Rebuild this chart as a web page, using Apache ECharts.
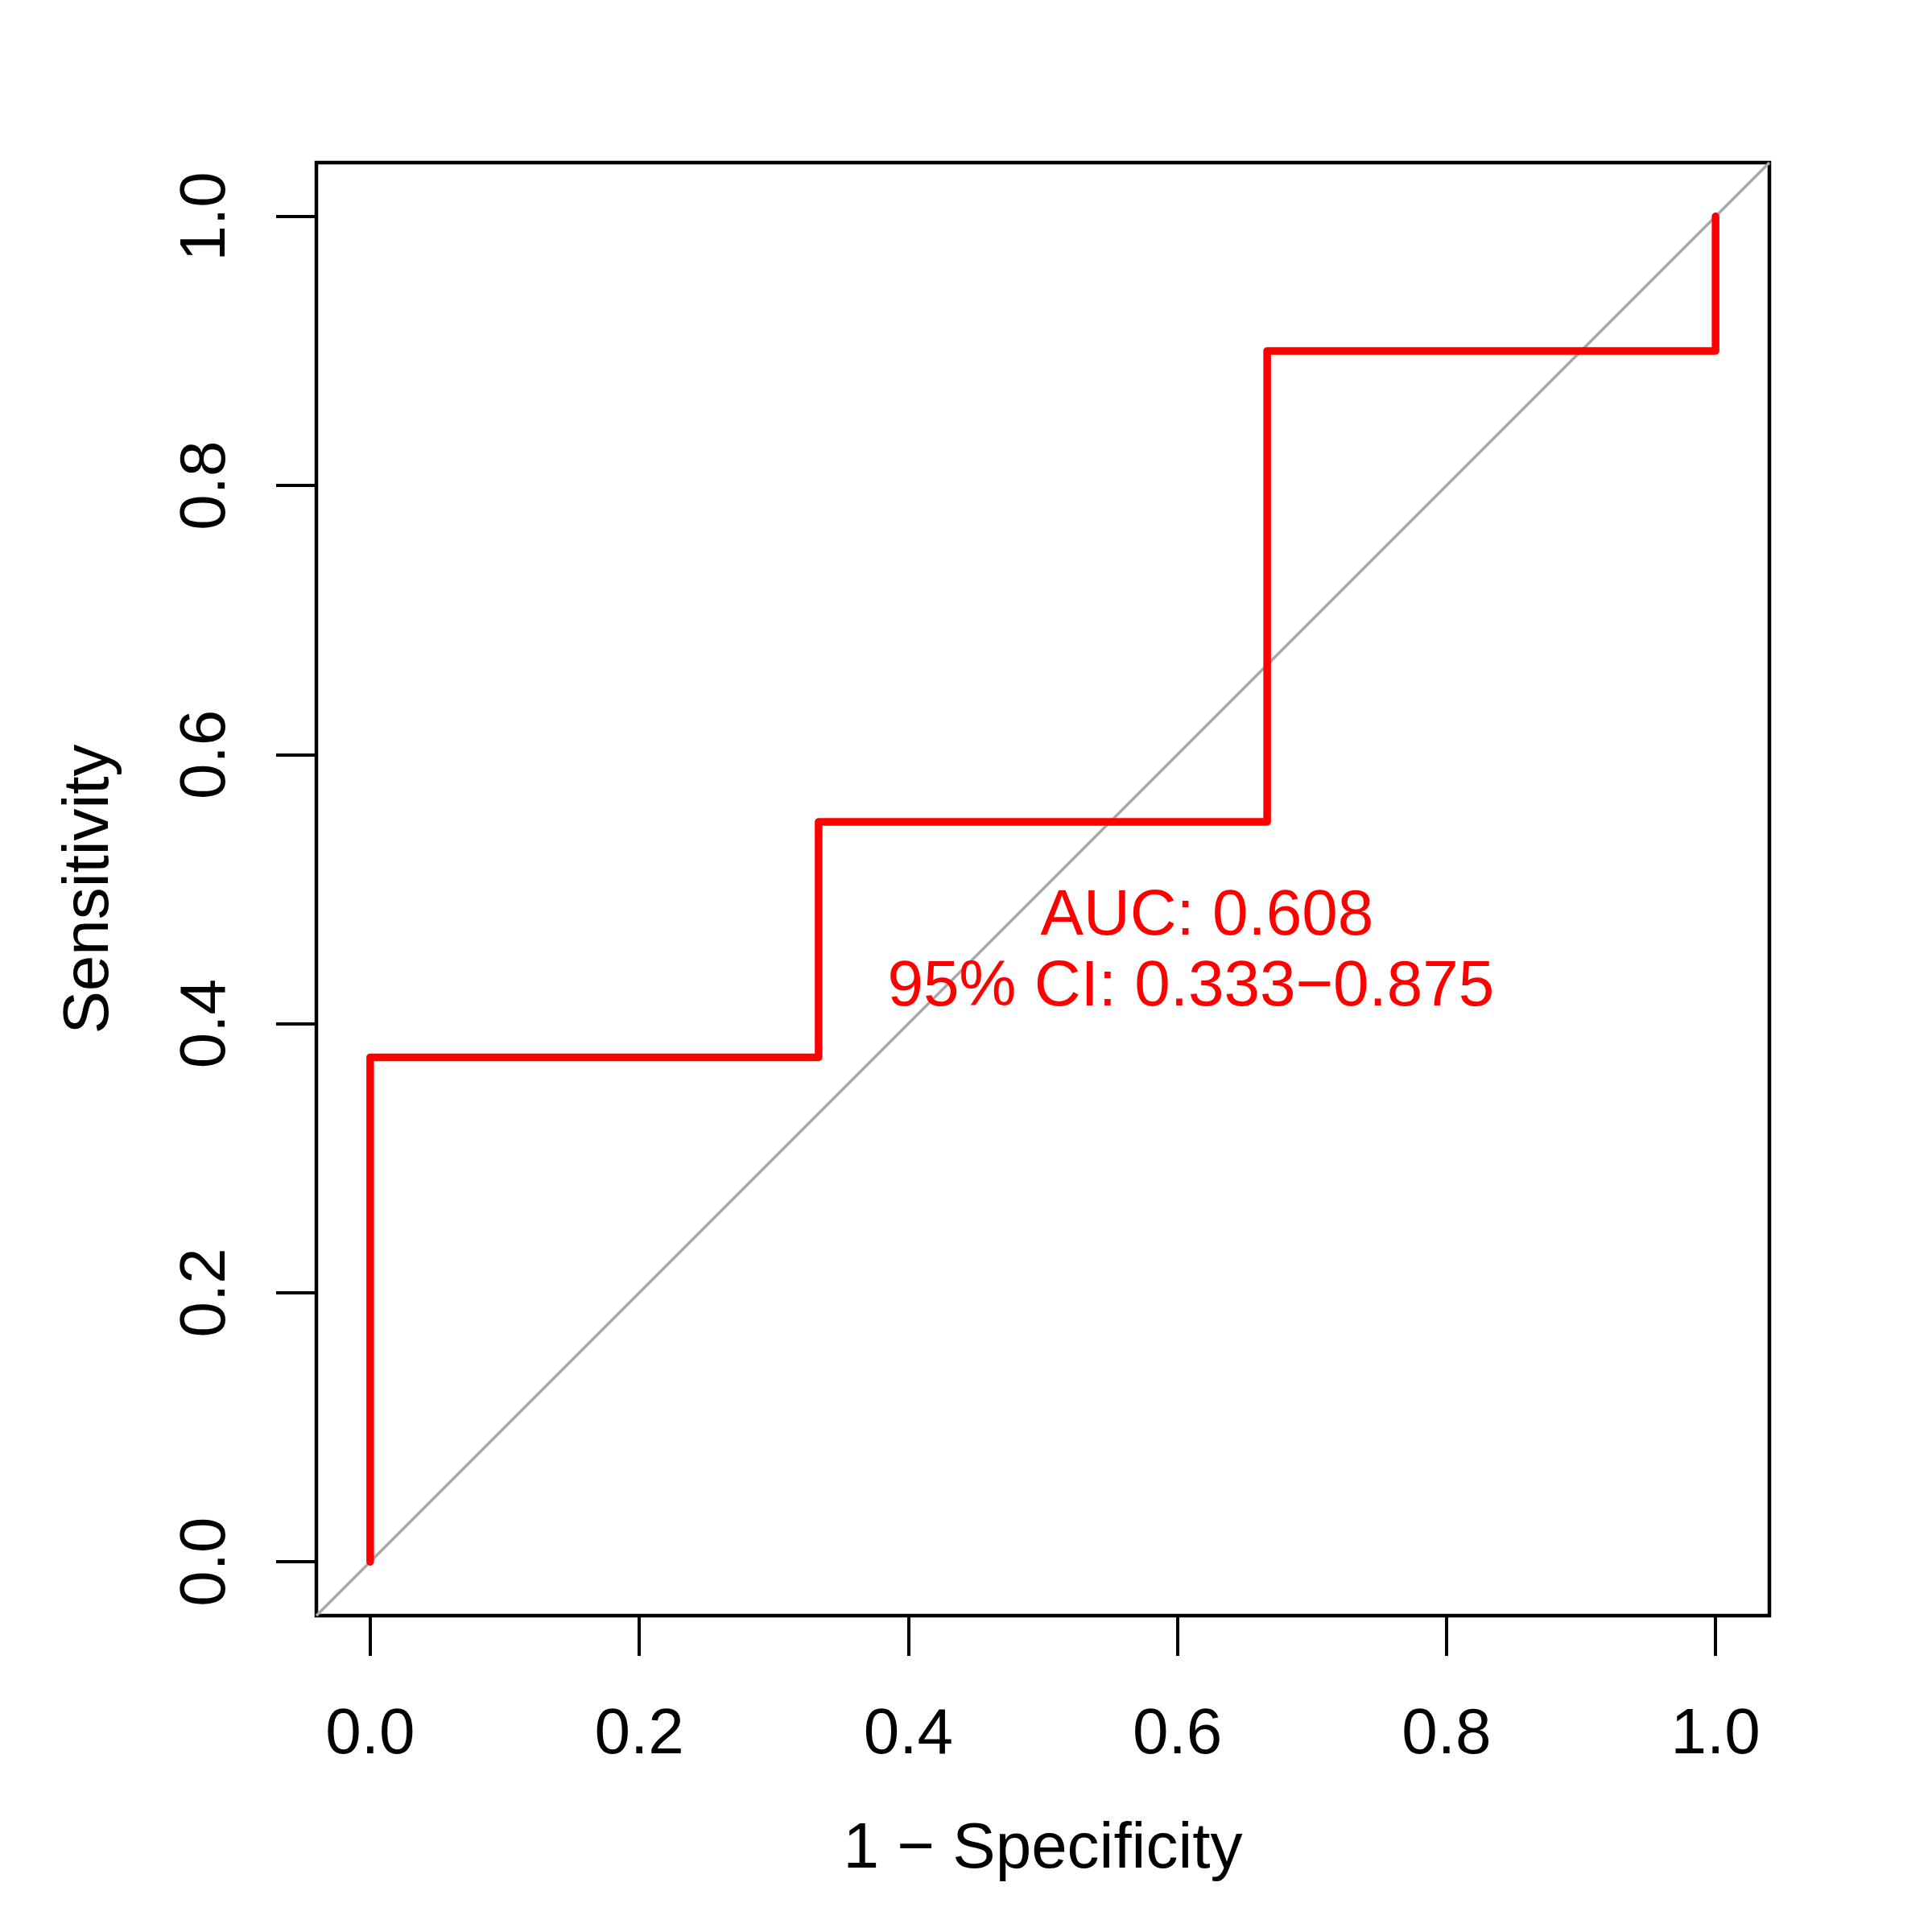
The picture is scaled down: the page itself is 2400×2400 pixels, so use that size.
<!DOCTYPE html>
<html>
<head>
<meta charset="utf-8">
<script src="https://cdn.jsdelivr.net/npm/echarts@6/dist/echarts.min.js"></script>
<style>
html,body{margin:0;padding:0;background:#fff;}
#chart{width:2400px;height:2400px;}
</style>
</head>
<body>
<div id="chart"></div>
<script>
// ROC curve points (1 - specificity, sensitivity)
const fpr = [0, 0, 0.3333, 0.3333, 0.6667, 0.6667, 1, 1];
const tpr = [0, 0.375, 0.375, 0.55, 0.55, 0.9, 0.9, 1];
// chance diagonal (spans the whole plot region)
const diagX = [-0.04, 1.04];
const diagY = [-0.04, 1.04];
// tick values
const xTicks = [0, 0.2, 0.4, 0.6, 0.8, 1.0];
const yTicks = [0, 0.2, 0.4, 0.6, 0.8, 1.0];
// annotation texts and their data positions (centre of text)
const annoText = ['AUC: 0.608', '95% CI: 0.333\u22120.875'];
const annoX = [0.622, 0.610];
const annoY = [0.4795, 0.4265];

const FONT = '"Liberation Sans", Arial, Helvetica, sans-serif';
const FS = 80;

const chart = echarts.init(document.getElementById('chart'), null, {renderer: 'canvas'});

const rocData = fpr.map((x, i) => [x, tpr[i]]);
const diagData = diagX.map((x, i) => [x, diagY[i]]);

const axisCommon = {
  type: 'value',
  min: -0.04,
  max: 1.04,
  splitLine: {show: false},
  axisLine: {show: false, onZero: false},
  nameLocation: 'middle',
  nameTextStyle: {fontFamily: FONT, fontSize: FS, color: '#000'},
  axisTick: {show: true, inside: false, length: 50, lineStyle: {color: '#000', width: 4}},
  axisLabel: {fontFamily: FONT, fontSize: FS, color: '#000', formatter: v => v.toFixed(1)}
};

chart.setOption({
  backgroundColor: '#fff',
  animation: false,
  grid: {left: 393, top: 202, width: 1805, height: 1805, show: true, borderColor: '#000', borderWidth: 4.5, backgroundColor: 'transparent'},
  xAxis: Object.assign({}, axisCommon, {
    name: '1 \u2212 Specificity',
    nameGap: 251,
    axisTick: Object.assign({}, axisCommon.axisTick, {customValues: xTicks}),
    axisLabel: Object.assign({}, axisCommon.axisLabel, {customValues: xTicks, margin: 109})
  }),
  yAxis: Object.assign({}, axisCommon, {
    name: 'Sensitivity',
    nameGap: 241,
    axisTick: Object.assign({}, axisCommon.axisTick, {customValues: yTicks}),
    axisLabel: Object.assign({}, axisCommon.axisLabel, {customValues: yTicks, margin: 96, rotate: 90})
  }),
  series: [
    {
      type: 'line',
      data: diagData,
      symbol: 'none',
      clip: true,
      lineStyle: {color: '#A9A9A9', width: 3.5},
      z: 2
    },
    {
      type: 'line',
      data: rocData,
      symbol: 'none',
      clip: false,
      lineStyle: {color: '#FF0000', width: 9.5, cap: 'round', join: 'round'},
      z: 3
    }
  ]
});

const graphics = annoText.map((t, i) => {
  const p = chart.convertToPixel({gridIndex: 0}, [annoX[i], annoY[i]]);
  return {
    type: 'text',
    x: p[0],
    y: p[1],
    z: 10,
    style: {text: t, fill: '#FF0000', font: FS + 'px ' + FONT, align: 'center', verticalAlign: 'middle'}
  };
});
chart.setOption({graphic: graphics});
</script>
</body>
</html>
